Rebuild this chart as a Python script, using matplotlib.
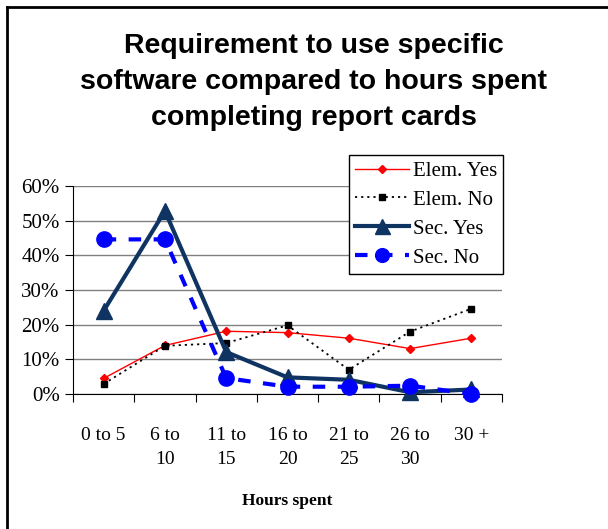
import numpy as np
import matplotlib
matplotlib.use("Agg")
import matplotlib.pyplot as plt
from matplotlib.lines import Line2D

# data (percent)
categories = ["0 to 5", "6 to\n10", "11 to\n15", "16 to\n20", "21 to\n25", "26 to\n30", "30 +"]
elem_yes = [4.5, 14.0, 18.1, 17.7, 16.1, 13.1, 16.1]
elem_no = [2.9, 13.9, 14.7, 19.8, 7.0, 18.0, 24.6]
sec_yes = [24.0, 52.8, 12.1, 4.8, 4.1, 0.5, 1.3]
sec_no = [44.6, 44.6, 4.6, 2.1, 2.1, 2.4, 0.0]
y_ticks = [0, 10, 20, 30, 40, 50, 60]

serif = ["Liberation Serif", "DejaVu Serif"]

fig = plt.figure(figsize=(6.08, 5.29), dpi=100)
ax = fig.add_axes([73 / 608, 1 - 394 / 529, (502 - 73) / 608, (394 - 186) / 529])

x = np.arange(len(categories))

ax.plot(x, elem_yes, color="#ff0000", linewidth=1.0, marker="D", markersize=4,
        label="Elem. Yes", clip_on=False, zorder=3)
ax.plot(x, elem_no, color="black", linewidth=1.3, linestyle=(0, (1.2, 2.2)), marker="s",
        markersize=5, label="Elem. No", clip_on=False, zorder=3)
ax.plot(x, sec_yes, color="#0f3462", linewidth=3, marker="^", markersize=12,
        label="Sec. Yes", clip_on=False, zorder=4)
ax.plot(x, sec_no, color="#0000ff", linewidth=3, linestyle=(0, (3, 3)), marker="o",
        markersize=11, label="Sec. No", clip_on=False, zorder=4)

ax.set_xlim(-0.5, len(categories) - 0.5)
ax.set_ylim(0, 60)
ax.set_yticks(y_ticks)
ax.set_yticklabels([f"{t}%" for t in y_ticks], fontfamily=serif, fontsize=15)
ax.yaxis.grid(True, color="#808080", linewidth=1.0)
ax.set_axisbelow(True)

# category boundaries as ticks, labels centered between them
ax.set_xticks(np.arange(-0.5, len(categories), 1.0))
ax.set_xticklabels([])
ax.set_xticks(x, minor=True)
ax.set_xticklabels(categories, minor=True, fontfamily=serif, fontsize=14,
                   linespacing=1.5, va="top")
ax.tick_params(axis="x", which="minor", length=0, pad=24)
ax.tick_params(axis="x", which="major", length=6, direction="out", color="black")
ax.tick_params(axis="y", length=6, direction="out")

for side in ["top", "right"]:
    ax.spines[side].set_visible(False)
ax.spines["left"].set_color("black")
ax.spines["bottom"].set_color("black")

ax.set_xlabel("Hours spent", fontfamily=serif, fontsize=12.5, fontweight="bold", labelpad=18)

fig.text(0.516, 1 - 82 / 529, "Requirement to use specific\nsoftware compared to hours spent\ncompleting report cards",
         ha="center", va="center", fontsize=20.5, fontweight="bold",
         fontfamily=["Liberation Sans", "DejaVu Sans"], linespacing=1.48)

leg = ax.legend(loc="upper right", bbox_to_anchor=(503 / 608, 1 - 155 / 529),
                bbox_transform=fig.transFigure, borderaxespad=0, fancybox=False,
                framealpha=1, edgecolor="black", prop={"family": serif, "size": 15},
                handlelength=2.6, handletextpad=0.15, labelspacing=0.45,
                borderpad=0.3, markerscale=0.9)
leg.get_frame().set_linewidth(1.0)

# outer chart frame (only left and top edges visible in the crop)
fig.add_artist(Line2D([7 / 608, 7 / 608], [0, 1 - 7 / 529], color="black",
                      linewidth=2, transform=fig.transFigure))
fig.add_artist(Line2D([7 / 608, 1], [1 - 7 / 529, 1 - 7 / 529], color="black",
                      linewidth=2, transform=fig.transFigure))

fig.savefig("out.png", dpi=100)
